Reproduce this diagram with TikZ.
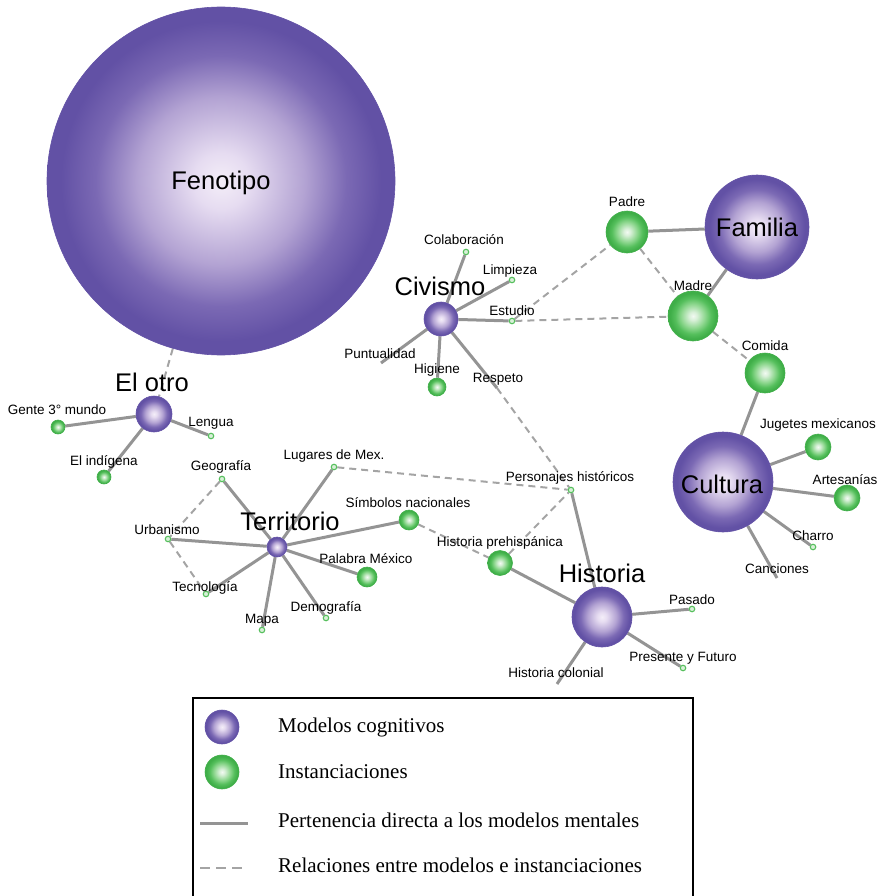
\documentclass[tikz,border=0pt]{standalone}
\usepackage{fontspec}
\setmainfont{Liberation Serif}
\newfontfamily\lsans{Liberation Sans}
\usetikzlibrary{backgrounds}
\definecolor{pA}{HTML}{F4EEF8}
\definecolor{pB}{HTML}{E6DCF1}
\definecolor{pC}{HTML}{B3A3D3}
\definecolor{pD}{HTML}{7B69B4}
\definecolor{pE}{HTML}{6251A5}
\definecolor{gA}{HTML}{F2FAF2}
\definecolor{gB}{HTML}{D9F0D9}
\definecolor{gC}{HTML}{8ED78F}
\definecolor{gD}{HTML}{55BF5C}
\definecolor{gE}{HTML}{3FAE48}
\definecolor{lineG}{HTML}{949494}
\definecolor{dashG}{HTML}{A4A4A4}
\pgfdeclareradialshading{purpball}{\pgfpoint{0bp}{0bp}}{color(0bp)=(pA); color(4bp)=(pB); color(12bp)=(pC); color(18bp)=(pD); color(23bp)=(pE); color(25bp)=(pE); color(50bp)=(pE)}
\pgfdeclareradialshading{greenball}{\pgfpoint{0bp}{0bp}}{color(0bp)=(gA); color(4bp)=(gB); color(12bp)=(gC); color(18bp)=(gD); color(23bp)=(gE); color(25bp)=(gE); color(50bp)=(gE)}
\tikzset{
  pb/.style={circle, inner sep=0pt, minimum size=#1, shading=purpball, draw=pE, line width=0.6pt},
  gb/.style={circle, inner sep=0pt, minimum size=#1, shading=greenball, draw=gE, line width=0.6pt},
  tiny/.style={circle, inner sep=0pt, minimum size=5.5pt, draw=gD, line width=1.1pt, fill=gB},
  smalltxt/.style={font=\lsans\fontsize{13.5}{15}\selectfont, inner sep=0pt},
  bigtxt/.style={font=\lsans\fontsize{25.5}{28}\selectfont, inner sep=0pt},
  legtxt/.style={font=\fontsize{21}{24}\selectfont, anchor=west, inner sep=0pt},
  solidedge/.style={draw=lineG, line width=3pt},
  dashedge/.style={draw=dashG, line width=2pt, dash pattern=on 7pt off 5pt},
}
\begin{document}
\begin{tikzpicture}[x=1pt, y=-1pt]
\useasboundingbox (0,0) rectangle (887,896);
% ---------- model circles ----------
\node[pb=348pt] (fen) at (221,181) {};
\node[pb=36pt] (otro) at (154,414) {};
\node[pb=20pt] (terr) at (277,547) {};
\node[pb=34pt] (civ) at (441,319) {};
\node[pb=104pt] (fam) at (757,227) {};
\node[pb=100pt] (cult) at (723,482) {};
\node[pb=60pt] (hist) at (602,617) {};
% ---------- instances ----------
\node[gb=14pt] (gente) at (58,427) {};
\node[tiny] (lengua) at (211,436) {};
\node[gb=14pt] (indig) at (104,477) {};
\node[tiny] (geo) at (222,479) {};
\node[tiny] (lug) at (334,467) {};
\node[tiny] (urb) at (168,539) {};
\node[tiny] (tec) at (206,594) {};
\node[tiny] (mapa) at (262,630) {};
\node[tiny] (demo) at (326,618) {};
\node[gb=20pt] (palabra) at (367,577) {};
\node[gb=20pt] (simb) at (409,520) {};
\node[tiny] (colab) at (466,252) {};
\node[tiny] (limp) at (512,280) {};
\node[tiny] (estud) at (512,321) {};
\coordinate (puntu) at (381,363);
\node[gb=18pt] (hig) at (437,387) {};
\coordinate (resp) at (497,388);
\node[gb=42pt] (padre) at (627,232) {};
\node[gb=50pt] (madre) at (693,316) {};
\node[gb=40pt] (comida) at (765,373) {};
\node[gb=26pt] (jug) at (818,447) {};
\node[gb=26pt] (artes) at (847,498) {};
\node[tiny] (charro) at (813,547) {};
\coordinate (canc) at (777,578);
\node[tiny] (pers) at (571,490) {};
\node[gb=25pt] (prehisp) at (500,563) {};
\node[tiny] (pasado) at (692,609) {};
\node[tiny] (presente) at (683,668) {};
\coordinate (colonial) at (557,684);
% ---------- labels ----------
\node[bigtxt] (tfen) at (221,183) {Fenotipo};
\node[bigtxt] (totro) at (152,382) {El otro};
\node[bigtxt] (tterr) at (290,521) {Territorio};
\node[bigtxt] (tciv) at (440,286) {Civismo};
\node[bigtxt] (tfam) at (757,227) {Familia};
\node[bigtxt] (tcult) at (722,484) {Cultura};
\node[bigtxt] (thist) at (602,573) {Historia};
\node[smalltxt] (tgente) at (57,410) {Gente 3° mundo};
\node[smalltxt] (tlengua) at (211,423) {Lengua};
\node[smalltxt] (tindig) at (104,462) {El indígena};
\node[smalltxt] (tgeo) at (221,467) {Geografía};
\node[smalltxt] (tlug) at (334,456) {Lugares de Mex.};
\node[smalltxt] (turb) at (167,530) {Urbanismo};
\node[smalltxt] (ttec) at (205,588) {Tecnología};
\node[smalltxt] (tmapa) at (262,620) {Mapa};
\node[smalltxt] (tdemo) at (326,608) {Demografía};
\node[smalltxt] (tpalabra) at (366,559) {Palabra México};
\node[smalltxt] (tsimb) at (408,503) {Símbolos nacionales};
\node[smalltxt] (tcolab) at (464,240) {Colaboración};
\node[smalltxt] (tlimp) at (510,271) {Limpieza};
\node[smalltxt] (testud) at (512,311) {Estudio};
\node[smalltxt] (tpuntu) at (380,354) {Puntualidad};
\node[smalltxt] (thig) at (437,370) {Higiene};
\node[smalltxt] (tresp) at (498,379) {Respeto};
\node[smalltxt] (tpadre) at (627,202) {Padre};
\node[smalltxt] (tmadre) at (693,286) {Madre};
\node[smalltxt] (tcomida) at (765,346) {Comida};
\node[smalltxt] (tjug) at (818,425) {Jugetes mexicanos};
\node[smalltxt] (tartes) at (845,480) {Artesanías};
\node[smalltxt] (tcharro) at (813,536) {Charro};
\node[smalltxt] (tcanc) at (777,569) {Canciones};
\node[smalltxt] (tpers) at (570,478) {Personajes históricos};
\node[smalltxt] (tprehisp) at (500,543) {Historia prehispánica};
\node[smalltxt] (tpasado) at (692,600) {Pasado};
\node[smalltxt] (tpresente) at (683,658) {Presente y Futuro};
\node[smalltxt] (tcolonial) at (556,673) {Historia colonial};
% ---------- edges ----------
\begin{scope}[on background layer]
\draw[solidedge] (otro) -- (gente);
\draw[solidedge] (otro) -- (lengua);
\draw[solidedge] (otro) -- (indig);
\foreach \t in {geo,lug,urb,tec,mapa,demo,palabra,simb}
  \draw[solidedge] (terr) -- (\t);
\foreach \t in {colab,limp,estud,puntu,hig,resp}
  \draw[solidedge] (civ) -- (\t);
\draw[solidedge] (fam) -- (padre);
\draw[solidedge] (fam) -- (madre);
\foreach \t in {comida,jug,artes,charro,canc}
  \draw[solidedge] (cult) -- (\t);
\foreach \t in {pers,prehisp,pasado,presente,colonial}
  \draw[solidedge] (hist) -- (\t);
% dashed relations
\draw[dashedge] (fen) -- (otro);
\draw[dashedge] (geo) -- (urb);
\draw[dashedge] (urb) -- (tec);
\draw[dashedge] (lug) -- (pers);
\draw[dashedge] (simb) -- (prehisp);
\draw[dashedge] (prehisp) -- (pers);
\draw[dashedge] (resp) -- (pers);
\draw[dashedge] (estud) -- (padre);
\draw[dashedge] (estud) -- (madre);
\draw[dashedge] (padre) -- (madre);
\draw[dashedge] (madre) -- (comida);
\end{scope}
% ---------- legend ----------
\draw[line width=1.3pt] (193,900) -- (193,698) -- (693,698) -- (693,900);
\node[pb=34pt] (lg1) at (222,727) {};
\node[gb=34pt] (lg2) at (222,772) {};
\coordinate (ls1) at (200,823);
\coordinate (ls2) at (248,823);
\coordinate (ld1) at (200,868);
\coordinate (ld2) at (248,868);
\draw[solidedge] (ls1) -- (ls2);
\draw[dashedge, dash pattern=on 10pt off 6pt] (ld1) -- (ld2);
\node[legtxt] (lt1) at (278,727) {Modelos cognitivos};
\node[legtxt] (lt2) at (278,772) {Instanciaciones};
\node[legtxt] (lt3) at (278,820) {Pertenencia directa a los modelos mentales};
\node[legtxt] (lt4) at (278,865) {Relaciones entre modelos e instanciaciones};
\end{tikzpicture}
\end{document}
